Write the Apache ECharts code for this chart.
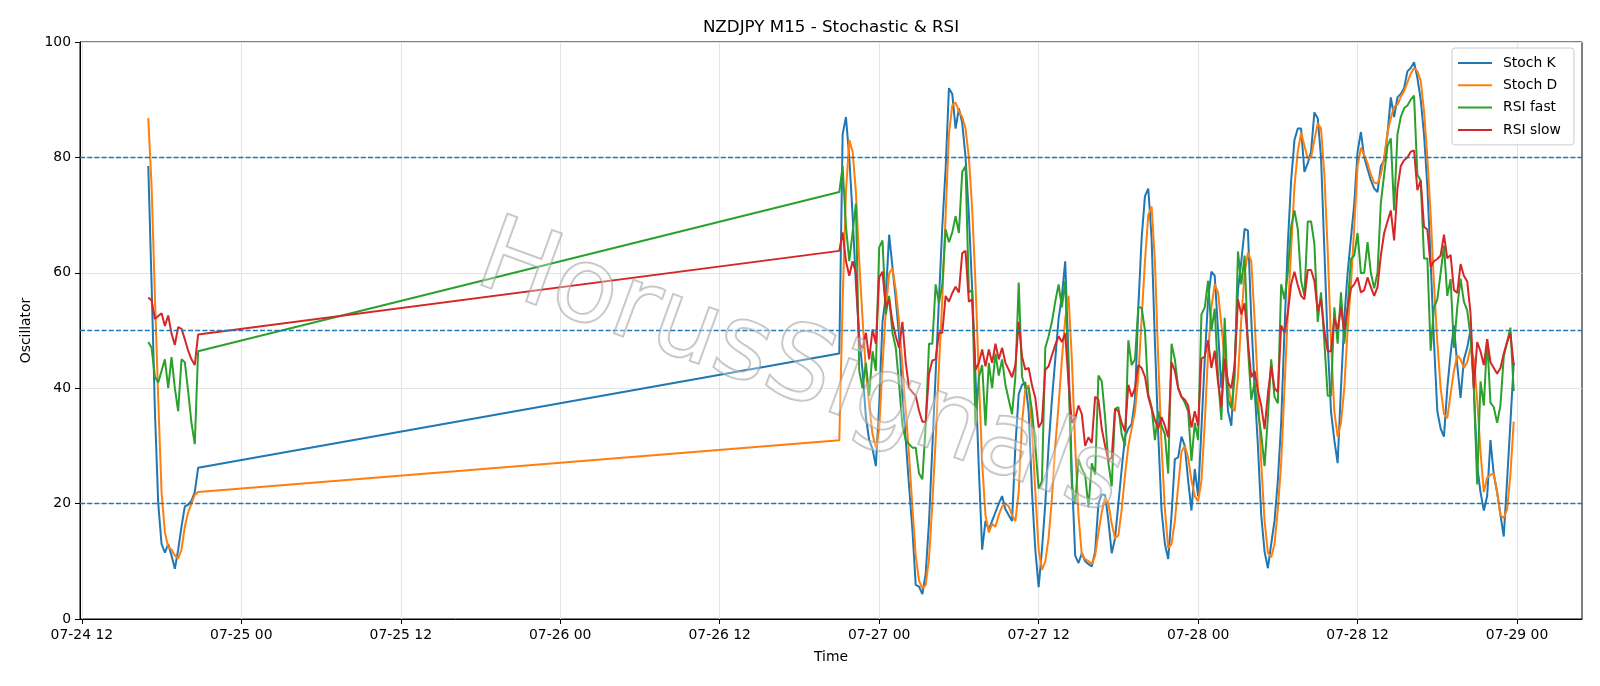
<!DOCTYPE html>
<html>
<head>
<meta charset="utf-8">
<title>NZDJPY M15 - Stochastic & RSI</title>
<script src="https://cdn.jsdelivr.net/npm/echarts@6/dist/echarts.min.js"></script>
<style>
  html, body { margin: 0; padding: 0; background: #fff; }
  #chart { width: 1600px; height: 686px; }
</style>
</head>
<body>
<div id="chart"></div>
<script>
// trading sessions: first 15-min bar and bar count (weekend gap in between)
const sessions = [
  ['2020-07-24T17:00', 16],
  ['2020-07-26T21:00', 204]
]

const stochK = [
  78.5, 58, 36, 20, 13, 11.5, 13, 11, 8.7, 12, 16, 19.5, 19.8, 20.5, 22, 26.2,
  46, 84, 87, 80, 70, 58, 49, 43, 35, 31,
  29.5, 26.5, 37, 51.5, 56, 66.6, 61, 55.4, 49, 38.7,
  31, 23, 15.5, 5.9, 5.6, 4.3, 7.8, 16.8, 29.7, 42.5,
  55.4, 68, 78, 92, 91, 85, 88.5, 86, 80, 70,
  57, 42, 26, 12, 17, 15.5, 17, 18.5, 20, 21.3,
  19, 18, 17, 30, 39, 40.6, 41, 36, 22, 12,
  5.5, 12, 20, 30, 38, 45, 52, 56, 62, 45,
  25, 11, 9.7, 11.4, 10, 9.5, 9.1, 11.7, 20, 21.6,
  21.5, 17, 11.4, 14, 20, 26, 31.6, 33, 33.8, 38,
  54, 66, 73.3, 74.6, 66, 48, 32, 18.8, 13, 10.4,
  18, 27.7, 28, 31.6, 30, 24, 18.8, 26, 21.3, 33,
  45, 55.4, 60.2, 59.5, 50, 40, 47, 36, 33.5, 44,
  57, 62, 67.6, 67.3, 52, 40, 30, 18, 11.7, 8.8,
  13, 17, 24, 34, 50, 65, 76, 83, 85, 85,
  77.5, 79, 81, 87.8, 86.8, 80, 64, 48, 36, 31,
  27, 40, 52, 60, 66, 72, 81, 84.4, 80, 78,
  76, 74.6, 74, 78.5, 79.5, 84, 90.4, 87, 90.4, 91,
  92, 94.9, 95.5, 96.5, 93.8, 90, 84, 75, 62, 48,
  36, 33, 31.6, 40, 46, 50.9, 44, 38.3, 45, 47,
  50.2, 40, 26.5, 22, 18.8, 21.3, 31, 25, 22, 18.1,
  14.3, 24, 34, 44.4
]

const stochD = [
  86.8, 75, 56, 38, 22, 15, 12.5, 12, 11, 10.5, 12, 16, 18.5, 20, 21.5, 22,
  31, 55, 74, 83, 81, 74, 62, 52, 43, 37,
  32, 29.7, 33, 43.8, 53.4, 59.9, 60.8, 57, 51.5, 43.8,
  36.1, 28.4, 19.4, 11, 6.6, 5.3, 5.9, 10.4, 20, 31,
  43.8, 55.4, 70, 84, 89, 89.5, 88, 87, 85, 80,
  71, 58, 42, 27, 18, 15, 16.5, 16, 18, 19.5,
  20, 19.5, 18, 17, 22, 34, 40, 40.5, 33, 22,
  12, 8.5, 10, 14, 21, 30, 37, 45, 52, 56,
  45, 30, 18, 11, 10.4, 10, 9.5, 11, 15, 18.5,
  21, 20, 16.5, 14, 14.5, 19, 25, 30, 33, 36,
  42, 52, 62, 70, 71.5, 62, 45, 30, 19, 12.3,
  13, 17, 23, 29, 30, 28, 24, 21.3, 20.4, 24,
  34, 46, 54, 58, 56.6, 51, 45, 41, 37, 36,
  42, 52, 60, 63.5, 62, 52, 40, 27, 17, 11.5,
  10.7, 13, 19, 27, 40, 53, 64, 75, 81, 84.3,
  82, 79.8, 80, 83, 85.9, 85, 77, 64, 48, 36,
  31.6, 34, 40, 50, 58, 68, 78.5, 81.7, 80.4, 79,
  77, 75.6, 75.5, 77, 80, 84.3, 86.8, 88.8, 89.1, 90.5,
  91.5, 93, 94.5, 95.5, 94.9, 93.3, 88, 80, 70, 58,
  48, 40, 35.5, 34.8, 39, 43, 45.7, 45, 43.5, 44.5,
  47, 45, 38, 29, 22, 24.5, 25, 25.2, 22, 18,
  17.5, 19, 25, 34.2
]

const rsiFast = [
  48, 47, 42, 41, 43, 45, 40, 45.4, 40, 36, 45, 44.5, 39.5, 34, 30.3, 46.4,
  74, 78.5, 68, 62, 67, 72, 43, 40, 44.4, 38.7,
  46.4, 43, 64.4, 65.6, 52.8, 56, 49.6, 47, 40.6, 33.5,
  31, 30.3, 29.7, 29.7, 25.2, 24.2, 33.5, 47.7, 47.7, 58,
  54.7, 58, 67.5, 65.3, 67, 69.8, 66.9, 77.5, 78.5, 56.6,
  57, 33.5, 41.9, 44, 33.5, 44.4, 40, 46, 42.2, 45,
  40.6, 38, 35.5, 42, 58.3, 42, 40, 40, 36.1, 30,
  22.6, 23.9, 47, 49, 51.5, 55, 58, 54, 58.6, 42,
  23, 20, 27.7, 26, 25, 19.4, 27, 25, 42.2, 41.2,
  35, 27, 23, 36.4, 36.7, 32, 30, 48.3, 44, 45,
  54, 54, 50, 39, 36.7, 31, 36, 33.5, 32, 25.2,
  47.7, 45, 40, 38.5, 37.5, 36, 27.4, 34, 31, 52.8,
  54, 58.6, 50, 53.8, 42, 34.5, 52.2, 38, 36.5, 42,
  63.7, 58, 63, 47, 38, 41, 36, 32, 26.5, 35,
  45, 38.5, 37.4, 58, 55.4, 60, 68, 70.8, 67.6, 58.6,
  56, 68.9, 68.9, 65, 51.5, 56.6, 48, 38.7, 38.7, 54,
  47.7, 56.6, 47.7, 54, 62.4, 63, 66.9, 59.9, 60, 65.3,
  60, 57.3, 60, 72.1, 77, 82, 83.3, 70.8, 84, 87,
  88.5, 89, 90, 90.7, 77, 76, 62.5, 62.5, 46.5, 54,
  55.4, 60, 64.7, 56, 58.9, 47, 54, 59, 55, 53.5,
  49, 40, 23.3, 41.2, 37, 48.5, 37.5, 36.7, 34, 37,
  45.5, 48, 50.5, 39.5
]

const rsiSlow = [
  55.7, 55.2, 52, 52.5, 53, 50.8, 52.6, 49.5, 47.5, 50.6, 50.3, 48.5, 46.5, 45, 44, 49.3,
  63.8, 67, 62, 59.5, 62, 60, 47.7, 47, 49.6, 45,
  50.2, 47.7, 59.2, 60.2, 54, 55.4, 51.5, 49, 47, 51.5,
  44.4, 40, 39.3, 38.7, 36.1, 34.2, 34.2, 42.5, 44.8, 45,
  49.6, 49.6, 56, 55, 56.5, 57.6, 56.6, 63.4, 63.8, 55,
  55.4, 43.2, 44.4, 46.7, 43.8, 46.7, 44.4, 47.7, 45, 47,
  44.4, 43.2, 41.9, 44, 51.5, 45.5, 43.2, 43.5, 40.5, 38.3,
  33.2, 34.2, 43.2, 43.8, 45.7, 47.5, 49, 48, 49.5, 41,
  34, 34.8, 37, 35.5, 30, 31.5, 30.5, 38.5, 38, 33,
  30, 27.5, 28, 36.4, 36, 34, 32.5, 40.6, 38.5, 40,
  44, 43.5, 42, 38.5, 36.5, 34.5, 33, 35, 33.5, 31.5,
  44.5, 43, 40, 38.5, 38, 37, 33.2, 36, 33.5, 45.1,
  45.5, 48.3, 43.5, 46.5, 41, 36.7, 45.1, 41, 40, 44,
  55.4, 52.8, 54.7, 48, 41.9, 43, 39.5, 37, 32.9, 39,
  43.8, 40, 39.3, 50.9, 49.6, 53, 58, 60.2, 57.9, 56,
  55.4, 60.5, 60.5, 58.6, 53.4, 55.4, 50, 46.4, 46.4, 52.2,
  50.2, 54, 50, 54, 57.3, 58, 59.2, 56.6, 57, 59.2,
  57.5, 56, 57.5, 63, 66.9, 68.9, 70.8, 65.6, 74.6, 78.5,
  79.5, 80, 81, 81.2, 74.3, 76, 68, 67.5, 61, 62,
  62.4, 63, 66.6, 62.5, 63.1, 57, 56.5, 61.5, 59.5, 58.5,
  53, 40, 48, 46.4, 44, 48.5, 44.5, 43.5, 42.5, 43.5,
  46, 48, 49.5, 44
]

const levels = [80, 50, 20]
const yTicks = [0, 20, 40, 60, 80, 100]

const BAR = 15 * 60 * 1000
const HALF_DAY = 12 * 3600 * 1000

// timestamps of every bar
const times = []
sessions.forEach(([start, count]) => {
  const t0 = new Date(start).getTime()
  for (let k = 0; k < count; k++) times.push(t0 + k * BAR)
})

// matplotlib style 5% margins on the time axis
const span = times[times.length - 1] - times[0]
const xMin = times[0] - span * 0.05
const xMax = times[times.length - 1] + span * 0.05

// 12-hour ticks on local 00:00 / 12:00
const xTicks = []
let t = new Date(2020, 6, 24, 0, 0).getTime()
while (t <= xMax) {
  if (t >= xMin) xTicks.push(t)
  t += HALF_DAY
}

const pad = n => (n < 10 ? '0' : '') + n
function fmtTime(v) {
  const d = new Date(v)
  return pad(d.getMonth() + 1) + '-' + pad(d.getDate()) + ' ' + pad(d.getHours())
}

const font = 'DejaVu Sans'
const pairs = arr => times.map((tt, i) => [tt, arr[i]])

function lineSeries(name, color, arr) {
  return {
    name: name,
    type: 'line',
    data: pairs(arr),
    showSymbol: false,
    symbol: 'none',
    lineStyle: { width: 2, color: color },
    itemStyle: { color: color },
    emphasis: { disabled: true },
    animation: false
  }
}

const series = [
  lineSeries('Stoch K', '#1f77b4', stochK),
  lineSeries('Stoch D', '#ff7f0e', stochD),
  lineSeries('RSI fast', '#2ca02c', rsiFast),
  lineSeries('RSI slow', '#d62728', rsiSlow)
]
series[3].markLine = {
  silent: true,
  symbol: 'none',
  label: { show: false },
  lineStyle: { color: '#1f77b4', width: 1.3, type: [5, 2.2] },
  data: levels.map(v => ({ yAxis: v }))
}

const chart = echarts.init(document.getElementById('chart'))
chart.setOption({
  backgroundColor: '#ffffff',
  animation: false,
  title: {
    text: 'NZDJPY M15 - Stochastic & RSI',
    left: 831,
    textAlign: 'center',
    top: 19,
    padding: 0,
    textStyle: { fontFamily: font, fontSize: 16.7, fontWeight: 'normal', color: '#000' }
  },
  grid: {
    left: 80,
    right: 18,
    top: 42,
    bottom: 67,
    show: true,
    borderColor: '#000',
    borderWidth: 1,
    backgroundColor: 'transparent'
  },
  legend: {
    data: ['Stoch K', 'Stoch D', 'RSI fast', 'RSI slow'],
    orient: 'vertical',
    left: 1452,
    top: 48,
    icon: 'rect',
    itemWidth: 34,
    itemHeight: 2,
    itemGap: 8.3,
    padding: [8, 13, 8, 6],
    backgroundColor: 'rgba(255,255,255,0.8)',
    borderColor: '#cccccc',
    borderWidth: 1,
    borderRadius: 3,
    textStyle: { fontFamily: font, fontSize: 13.9, color: '#000', padding: [0, 0, 0, 6] }
  },
  xAxis: {
    type: 'value',
    min: xMin,
    max: xMax,
    name: 'Time',
    nameLocation: 'middle',
    nameGap: 31,
    nameTextStyle: { fontFamily: font, fontSize: 13.9, color: '#000' },
    axisLine: { onZero: false, lineStyle: { color: '#000', width: 1 } },
    axisTick: { customValues: xTicks, length: 5, lineStyle: { color: '#000' } },
    axisLabel: {
      customValues: xTicks,
      formatter: v => fmtTime(v),
      fontFamily: font,
      fontSize: 13.9,
      color: '#000',
      margin: 9
    },
    splitLine: { show: true, lineStyle: { color: '#e4e4e4', width: 1 } }
  },
  yAxis: {
    type: 'value',
    min: 0,
    max: 100,
    interval: 20,
    name: 'Oscillator',
    nameLocation: 'middle',
    nameGap: 47,
    nameTextStyle: { fontFamily: font, fontSize: 13.9, color: '#000' },
    axisLine: { show: true, lineStyle: { color: '#000', width: 1 } },
    axisTick: { show: true, length: 5, lineStyle: { color: '#000' } },
    axisLabel: {
      fontFamily: font,
      fontSize: 13.9,
      color: '#000',
      margin: 9,
      formatter: v => (yTicks.indexOf(v) >= 0 ? String(v) : '')
    },
    splitLine: { show: true, lineStyle: { color: '#e4e4e4', width: 1 } }
  },
  graphic: [
    {
      type: 'text',
      x: 800,
      y: 372,
      rotation: -20 * Math.PI / 180,
      z: 100,
      silent: true,
      style: {
        text: 'HorusSignals',
        font: '104px "DejaVu Sans"',
        align: 'center',
        verticalAlign: 'middle',
        fill: 'rgba(255,255,255,0.3)',
        stroke: 'rgba(150,150,150,0.6)',
        lineWidth: 2,
        shadowColor: 'rgba(0,0,0,0.12)',
        shadowOffsetX: 3,
        shadowOffsetY: 3,
        shadowBlur: 2
      }
    }
  ],
  series: series
})
</script>
